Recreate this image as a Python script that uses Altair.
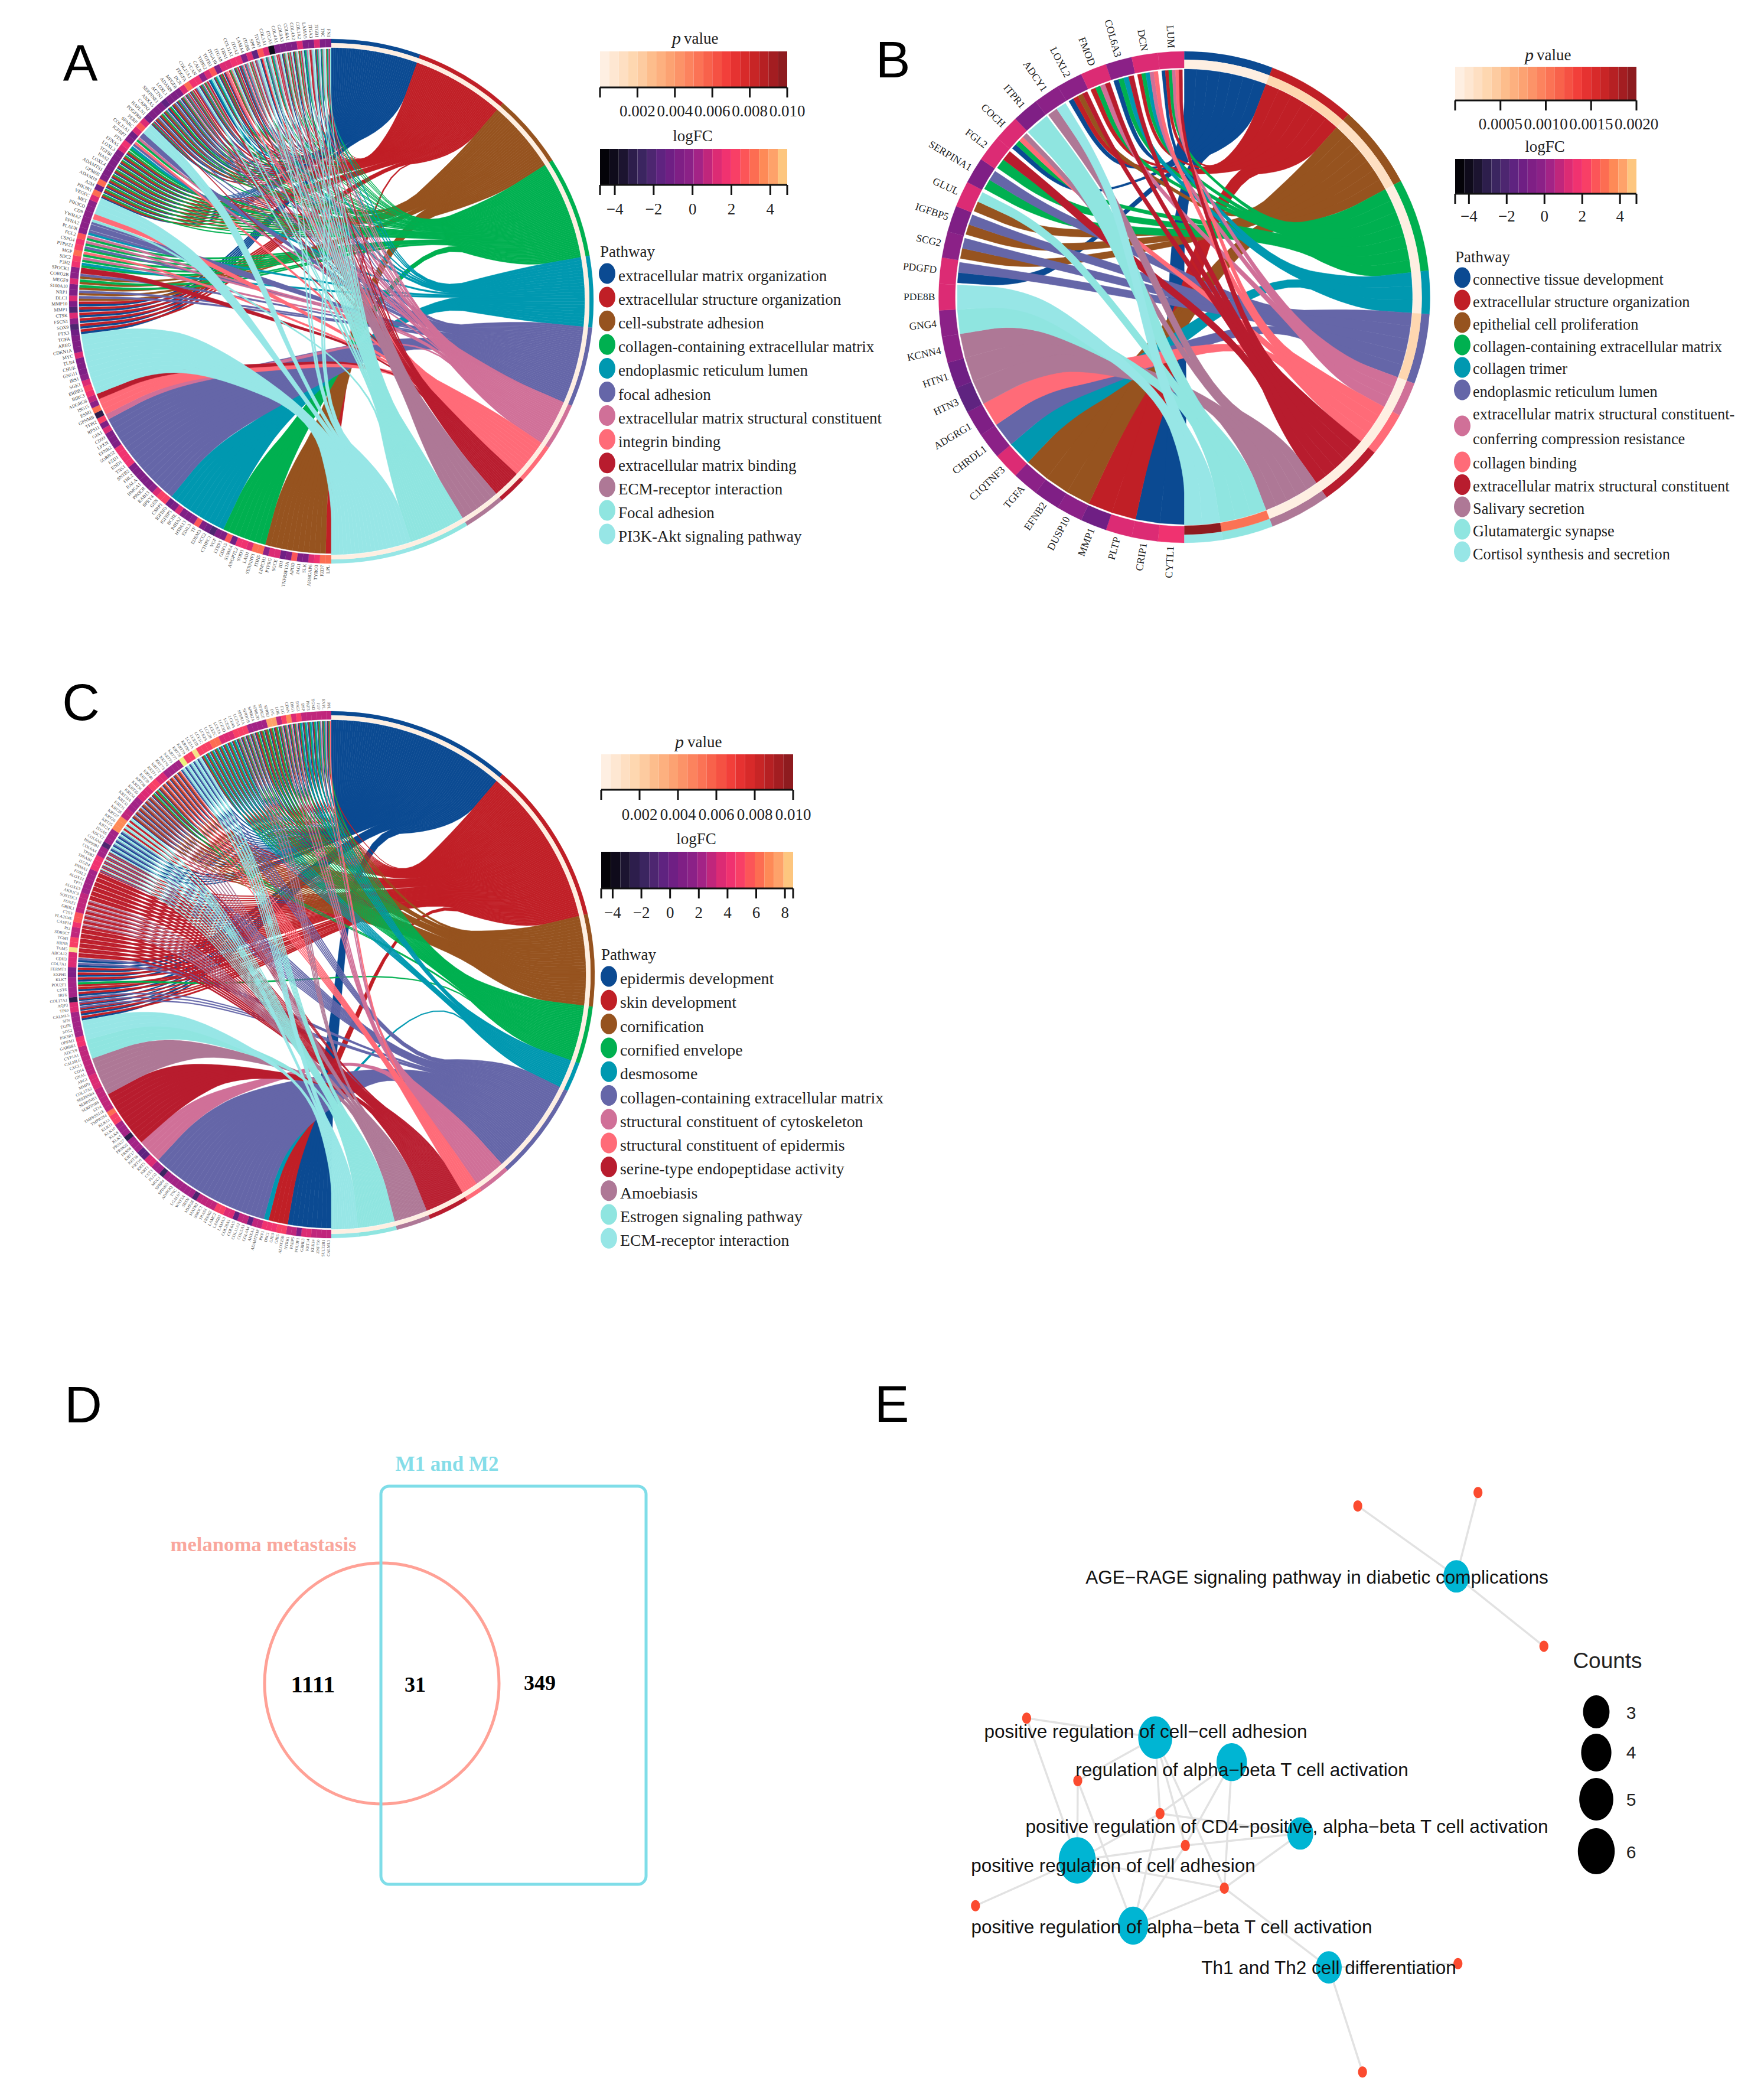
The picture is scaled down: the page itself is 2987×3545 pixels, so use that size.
import math
import altair as alt
import pandas as pd

alt.data_transformers.disable_max_rows()

SERIF = "Liberation Serif"
SANS = "Liberation Sans"
W, H = 2971, 3529
XS = alt.Scale(domain=[8, 8 + W], nice=False, zero=False)
YS = alt.Scale(domain=[8 + H, 8], nice=False, zero=False)

TERM_COL = dict(zip("abcdefghijkl", ["#0B4A92", "#C01F26", "#96531F", "#00B050", "#0098B0", "#6566A8",
                                     "#D07098", "#FF6B78", "#B81C2E", "#AE7896", "#8FE5E0", "#97E6E6"]))
P_COL = ["#FEEFE2", "#FEE7D2", "#FEDFC2", "#FED7B0", "#FDCBA0", "#FDBD8C", "#FDB07F", "#FCA272", "#FC9368", "#FC835E",
         "#FB7355", "#F8624B", "#F55143", "#F23F3A", "#E63231", "#D82A2A", "#C82526", "#B62023", "#A31D21", "#8E1B1F"]
FC_COL = ["#040308", "#0F0B1B", "#1C1430", "#2D1E4C", "#3B2560", "#4D2670", "#5F2380", "#6F1F84", "#7F1F85", "#8B2187",
          "#A32386", "#C0267C", "#DC2B74", "#F03270", "#F83F66", "#FC5558", "#FD6D52", "#FE8A57", "#FEA26A", "#FDC67F"]

# ---------- Panel A ----------
A_terms = ["extracellular matrix organization", "extracellular structure organization", "cell-substrate adhesion",
           "collagen-containing extracellular matrix", "endoplasmic reticulum lumen", "focal adhesion",
           "extracellular matrix structural constituent", "integrin binding", "extracellular matrix binding",
           "ECM-receptor interaction", "Focal adhesion", "PI3K-Akt signaling pathway"]
A_bounds = [0, 19.8, 40.9, 57.5, 80, 95.8, 113.5, 124, 133, 139.4, 148.8, 161.7, 180]
A_p = [0.0002] * 12
A_genes = ["LPL", "FZD7", "TYRO3", "ARHGAP6", "SLK", "JAG1", "APOD", "TNFRSF12A", "ID1", "SGCE", "PTPRG", "LIMCH1",
           "ITIH5", "SERPINF1", "LAD1", "SOD3", "ANGPTL2", "S100A4", "GDF15", "LTBP3", "VGF", "CTHRC1", "SCG2", "EDEM3",
           "TF", "EDIL3", "HSPA13", "P4HA2", "BCHE", "IGFBP5", "IGFBP3", "CSRP1", "GSN", "SPRY4", "RAB13", "PROCR",
           "HMGA1", "RALA", "FHL2", "SNTB2", "TNS1", "RND1", "FZD1", "SORBS2", "EFNB2", "LPXN", "CD99", "GJA1", "RPS11",
           "TFPI2", "GPNMB", "ESM1", "ISG15", "ADGRG6", "BIRC3", "ERBB3", "SGK1", "IRS1", "GNG11", "CHUK", "TLR4", "MYC",
           "CDKN1A", "AREG", "TGFA", "PTX3", "SOX9", "FSCN1", "CTSK", "MMP1", "MMP10", "DLC1", "NRP1", "S100A10", "MEGF9",
           "CORO2B", "SPOCK1", "P3H2", "SDC2", "MGP", "PTPRZ1", "CSPG4", "FGL2", "PLAUR", "EPHA2", "YWHAZ", "CD9",
           "PIK3CD", "MET", "VEGFC", "PIK3R1", "A2M", "ADAM19", "GPM6B", "ADAMTS1", "LOXL4", "HAS2", "TGFBI", "LOXL3",
           "EFNA5", "PTN", "IGFBP7", "COL21A1", "SPARC", "PERP", "PDGFRB", "HAPLN1", "CAPN2", "ANXA5", "SERPINE1", "ACTN1",
           "LOXL1", "ADAM9", "MFGE8", "DCN", "PDGFA", "COL15A1", "VCAN", "CALR", "THBS2", "TGFB1", "ITGA10", "ITGA8",
           "FBN1", "COL11A1", "ITGA2", "LAMA4", "ITGB8", "SPP1", "ITGB5", "COL5A1", "ITGA5", "COL4A1", "COL9A3", "COL6A1",
           "COL4A2", "COL1A2", "LAMA5", "ITGA3", "ITGB1", "TNC", "FN1"]
A_links = (["b"] + ["c"] * 11 + ["d"] * 8 + ["e"] * 11 + ["f"] * 18 + ["g"] + ["h"] * 3 + ["i"] + ["l"] * 11 +
           ["ab"] * 6 + ["cf", "cf", "cd", "cd", "cf", "i", "de", "dg", "dh", "df", "dg", "dg", "ef", "f", "fk", "h", "l", "l", "l"] +
           ["abcd"] * 10 + ["de", "fh", "dg", "f", "l", "l"] +
           ["abdfi", "abcf", "abcd", "abcdf", "abd", "abcf", "abdf", "abdg", "abdfgi", "abdgi", "bfk", "abdf", "bdgi", "aek",
            "abdek", "abdi", "abgh", "bdhk", "abdgi", "abeg", "befhjk", "bdgijk", "bfjkl", "abhk", "adfjkl", "bdegk", "bgijk",
            "abdgk", "bdgik", "abdjk", "bdgik", "adegk", "bijkl", "abdegk", "adgkl", "bdegik", "degjkl", "aegjk"])
A_fc = [3, 3, 1.5, 1.4, -.6, -.6, 2.6, -.9, -1.5, 1.2, 1.3, -.5, 3, 3, 1.2, 1.5, 1.5, -1.2, 2.5, -.9, -1, -2.2, -1.2, -.8,
        2.5, -.5, -.6, -.6, 1.2, -.8, -1.2, 2, 2.4, 1.3, -.5, -.7, -.9, -1, -.8, -.8, 1.7, 1.7, 1.6, 1.5, -.6, -.6, -.6, 1,
        -.6, 2, -3.5, 3, -.5, .9, 1.5, 2.4, 1.2, -.5, -.6, -.6, -.6, 1.4, -.6, -1, -1, -1.2, -2.5, -.4, 1.3, -2.2, -.6, 1.4,
        -.6, -.6, 1.4, -.5, -.5, 1.5, 2.4, 3.3, 2.4, 1.5, 2.5, -.5, -.5, -.4, -.4, -.5, -.5, 1.4, 3.3, -1.5, 3, -.6, -.6,
        -.7, -.8, -.8, -.7, 1.4, 1.5, -.9, -1.1, 1.4, 2.6, 1.4, -1.2, -.6, -.6, -.7, -1.6, -.7, -.7, -.6, 1.4, 3.2, 1.6, 1.5,
        -.5, 1.4, 2.5, -.6, 1.3, 1.4, 1.5, 1.5, -.7, 1.3, -1.6, 2.8, 1.3, -4.4, -.8, -.7, -.8, -.8, 1.4, -.7, -.6, 1.4, -.6, -.6]

# ---------- Panel B ----------
B_terms = ["connective tissue development", "extracellular structure organization", "epithelial cell proliferation",
           "collagen-containing extracellular matrix", "collagen trimer", "endoplasmic reticulum lumen",
           "extracellular matrix structural constituent-|conferring compression resistance", "collagen binding",
           "extracellular matrix structural constituent", "Salivary secretion", "Glutamatergic synapse",
           "Cortisol synthesis and secretion"]
B_bounds = [0, 21, 41.9, 61.8, 83.8, 94, 110.6, 118.8, 129.3, 144.6, 159, 171, 180]
B_p = [0.00005, 0.0003, 0.00025, 0.00005, 0.00005, 0.0003, 0.00005, 0.00005, 0.00005, 0.00005, 0.00105, 0.00198]
B_genes = ["CYTL1", "CRIP1", "PLTP", "MMP1", "DUSP10", "EFNB2", "TGFA", "C1QTNF3", "CHRDL1", "ADGRG1", "HTN3", "HTN1",
           "KCNN4", "GNG4", "PDE8B", "PDGFD", "SCG2", "IGFBP5", "GLUL", "SERPINA1", "FGL2", "COCH", "ITPR1", "ADCY1",
           "LOXL2", "FMOD", "COL6A3", "DCN", "LUM"]
B_links = ["a", "a", "b", "b", "c", "c", "c", "e", "f", "h", "j", "j", "j", "k", "l", "af", "cf", "cf", "ck", "df", "di",
           "adhj", "k", "jl", "abci", "bdgi", "adei", "bdegh", "abdghi"]
B_fc = [1.5, 1.0, 1.1, -1.3, -.3, -.6, -.4, 1.4, -.4, -.8, -2, -1.3, -.5, -.3, 1.3, 1.3, -.2, -.6, 1.2, -.6, 1.4, 1.4, -.7,
        -.3, -.3, 1.3, -.3, 1.2, 1.2]

# ---------- Panel C ----------
C_terms = ["epidermis development", "skin development", "cornification", "cornified envelope", "desmosome",
           "collagen-containing extracellular matrix", "structural constituent of cytoskeleton",
           "structural constituent of epidermis", "serine-type endopeptidase activity", "Amoebiasis",
           "Estrogen signaling pathway", "ECM-receptor interaction"]
C_bounds = [0, 40.5, 76.7, 97, 109.7, 116.2, 138, 145.2, 149, 158, 165.6, 174, 180]
C_p = [0.0002] * 12
C_genes = ["CALML3", "SULT2B1", "ZNF750", "KLK14", "KRT14", "GRHL3", "POU3F1", "FABP5", "NTRK1", "ALOX15B", "GJB5", "GJB3",
           "DSC1", "PKP1", "ADAMTS18", "ANXA1", "COL4A4", "COL5A3", "COL11A2", "COL6A5", "COL28A1", "LAMA3", "LAMB3", "LAMC2",
           "FREM2", "FRAS1", "SMOC1", "MATN2", "MMP28", "SBSN", "WNT5A", "LGALS7", "TNC", "ADIPOQ", "SPINK5", "SPRR4",
           "MUC1", "FLG2", "CST3", "KRT1", "KRT5", "KRT10", "KRT16", "KRT17", "PRSS8", "PRSS22", "PRSS27", "KLK5", "KLK8",
           "KLK10", "KLK11", "KLK13", "TMPRSS4", "TMPRSS11E", "ST14", "SERPINB5", "SERPINB3", "SERPINB4", "COL17A2", "MMP9",
           "ARG1", "GNAL", "CD14", "CXCL1", "CALML6", "CYP1A1", "ADCY9", "GABBR1", "OPRM1", "PIK3R3", "SOS2", "EGFR",
           "SFN", "CALML5", "TP63", "AQP3", "COL17A1", "IRF6", "CST6", "POU2F1", "KLK7", "EXPH5", "FERMT1", "COL7A1", "CDH3",
           "ABCA12", "TGM5", "HRNR", "TGM1", "SDR9C7", "PI3", "CASP14", "PLA2G4E", "CTSV", "GRHL1", "FOXE1", "SOSTDC1",
           "AKR1C3", "ALOXE3", "TP73", "ALOX12", "FOSL2", "PNMA1", "ITGB4", "TPSAB1", "TPSB2", "COL6A4", "HSP90B1", "COL6A6",
           "ADCY2", "ITGA6", "KRT24", "KRT25", "KRT26", "KRT27", "KRT28", "KRT31", "KRT32", "KRT33A", "KRT34", "KRT35",
           "KRT36", "KRT38", "KRT39", "KRT40", "KRT71", "KRT72", "KRT73", "KRT74", "KRT75", "KRT77", "KRT78", "KRT79",
           "KRT80", "LCE1A", "LCE1B", "LCE1C", "LCE2A", "LCE2B", "LCE2C", "LCE3A", "LCE3D", "LCE3E", "LCE4A", "LCE5A",
           "SPRR1A", "SPRR1B", "SPRR2A", "SPRR2D", "SPRR2E", "SPRR3", "IVL", "LOR", "FLG", "CDSN", "DSG1", "DSG3", "DSP",
           "PKP3", "TGM3", "JUP", "EVPL", "PPL"]
C_links = (["a"] * 9 + ["b"] * 4 + ["e"] + ["f"] * 25 + ["g"] * 5 + ["i"] * 12 + ["j"] * 8 + ["k", "k", "k", "k", "l", "l", "l", "l"] +
           ["ab"] * 2 + ["abf"] * 3 + ["ab"] * 2 + ["bd"] + ["ab"] * 3 + ["af"] * 2 +
           ["bi"] * 6 + ["bij"] * 6 + ["bi"] * 6 + ["bfik"] * 5 + ["afk"] * 5 + ["bikl"] * 3 +
           ["abcj"] * 6 + ["abcd"] * 2 + ["abch"] * 6 + ["afkl"] * 5 + ["abcde"] * 8 + ["abdj"] * 4 + ["abcd"] * 5 +
           ["abdg"] * 4 + ["abde"] * 4 + ["acdeg"] * 2 + ["abdh"] * 2)
C_fc_runs = [(3, 2), (2.5, 2), (3.6, 2), (1, 1), (3, 2), (4.6, 2), (4, 3), (2.6, 2), (-.5, 1), (2.8, 2), (-.9, 1), (3.4, 2),
             (5, 2), (2.8, 4), (-1, 1), (2.4, 4), (2, 3), (-1.8, 1), (2, 2), (3.6, 2), (-.9, 2), (1.9, 3), (-2.4, 1), (2.2, 3),
             (5, 2), (6, 1), (2.8, 5), (3.6, 3), (2.5, 6), (4, 2), (2.4, 5), (3.8, 2), (-2.6, 1), (2, 4), (1, 2), (3.2, 3),
             (8.9, 1), (5, 2), (2.6, 2), (4, 1), (5.5, 2), (3, 4), (2.4, 5), (4, 3), (2.3, 2), (-1.6, 1), (2.4, 3), (6.8, 3),
             (3, 2), (2, 3), (3.8, 3), (5, 2), (3.6, 2), (2.4, 4), (9.6, 1), (4.7, 2), (8.9, 1), (4.7, 3), (6.5, 2), (3.6, 3),
             (5, 3), (2.2, 4), (7.3, 2), (3, 1), (5, 1), (7, 1), (3.4, 1), (4.8, 1), (2.5, 1)]
C_fc = [v for v, k in C_fc_runs for _ in range(k)]


def ang_xy(cx, cy, r, deg):
    t = math.radians(deg)
    return cx + r * math.sin(t), cy - r * math.cos(t)


def unit(deg):
    t = math.radians(deg)
    return math.sin(t), -math.cos(t)


def tangent(deg):
    t = math.radians(deg)
    return math.cos(t), math.sin(t)


def chaikin(points, iterations=3):
    pts = points
    for _ in range(iterations):
        out = [pts[0]]
        for p, q in zip(pts[:-1], pts[1:]):
            out.append((.75 * p[0] + .25 * q[0], .75 * p[1] + .25 * q[1]))
            out.append((.25 * p[0] + .75 * q[0], .25 * p[1] + .75 * q[1]))
        out.append(pts[-1])
        pts = out
    return pts


def fc_color(v, lo, hi):
    if v > 9.3:
        return "#EDF27E"
    if v > 8.7:
        return "#F6E38A"
    i = int((v - lo) / (hi - lo) * 20)
    return FC_COL[max(0, min(19, i))]


def p_color(v, hi):
    i = int(v / hi * 20)
    return P_COL[max(0, min(19, i))]


GROUP_W = {"k": .6, "l": .6, "f": .5}


def ribbon_rows(spec):
    cx, cy, genes, links, bounds, rt, rg, R = (spec["cx"], spec["cy"], spec["genes"], spec["links"], spec["bounds"],
                                               spec["rt"], spec["rg"], spec["R"])
    n = len(genes)
    links = (links + [links[-1]] * n)[:n]
    w = 180.0 / n
    # contiguous runs of single-pathway genes form a block; the other genes are binned by position
    group_of = []
    run = 0
    for i, s in enumerate(links):
        if len(s) == 1:
            if i > 0 and links[i - 1] != s:
                run += 1
            group_of.append(("run", run))
        else:
            run += 1
            group_of.append(("zone", int((i * w) // 30)))
    members = {}
    for i, g in enumerate(group_of):
        members.setdefault(g, []).append(180 + (i + .5) * w)
    group_mid = {g: sum(v) / len(v) for g, v in members.items()}
    per_term = {k: [] for k in "abcdefghijkl"}
    for i, s in enumerate(links):
        g0 = 180 + i * w
        pad = w * 0.08 if len(s) > 1 else 0
        sub = (w - 2 * pad) / len(s)
        for j, k in enumerate(s):
            per_term[k].append((g0 + pad + j * sub, g0 + pad + (j + 1) * sub, group_of[i]))
    rows = []
    rid = 0
    for ti, k in enumerate("abcdefghijkl"):
        items = sorted(per_term[k], key=lambda q: -q[0])
        if not items:
            continue
        t0, t1 = bounds[ti], bounds[ti + 1]
        tm = (t0 + t1) / 2
        dt = (t1 - t0) / len(items)
        tu = unit(tm)
        sx = sum(unit((q[0] + q[1]) / 2)[0] for q in items)
        sy = sum(unit((q[0] + q[1]) / 2)[1] for q in items)
        nrm = math.hypot(sx, sy) or 1
        gu = (sx / nrm, sy / nrm)
        qt = ((.47 * tu[0] + .14 * gu[0]) * R, (.47 * tu[1] + .14 * gu[1]) * R)
        tt = tangent(tm)

        def edge(a, amid, g, gmid, group):
            ua = unit(a)
            ug = unit(g)
            gm = group_mid[group]
            gmu = unit(gm)
            gt = tangent(gm)
            qg0 = ((.49 * gmu[0] + .09 * tu[0]) * R, (.49 * gmu[1] + .09 * tu[1]) * R)
            wg = GROUP_W.get(k, .18) if group[0] == "run" else .5
            wd = (wg * math.radians(gmid - gm) + .7 * math.radians(g - gmid)) * R
            qg = (qg0[0] + wd * gt[0], qg0[1] + wd * gt[1])
            wa = (.1 * math.radians(amid - tm) + .45 * math.radians(a - amid)) * R
            q1 = (qt[0] + wa * tt[0], qt[1] + wa * tt[1])
            ctrl = [(ua[0] * rt, ua[1] * rt), (ua[0] * .75 * rt, ua[1] * .75 * rt), q1, qg,
                    (ug[0] * .75 * rg, ug[1] * .75 * rg), (ug[0] * rg, ug[1] * rg)]
            return chaikin(ctrl)

        for q, (g1, g2, group) in enumerate(items):
            a1, a2 = t0 + q * dt, t0 + (q + 1) * dt
            am, gmid = (a1 + a2) / 2, (g1 + g2) / 2
            pts = []
            for u in range(3):
                pts.append(ang_xy(0, 0, rt, a1 + (a2 - a1) * u / 3))
            pts += edge(a2, am, g1, gmid, group)
            pts += edge(a1, am, g2, gmid, group)[::-1]
            for o, (x, y) in enumerate(pts):
                rows.append({"x": round(cx + x, 1), "y": round(cy + y, 1), "id": rid, "o": o, "c": TERM_COL[k]})
            rid += 1
    return rows


def ring_rows(spec):
    cx, cy, R = spec["cx"], spec["cy"], spec["R"]
    rows = []
    n = len(spec["genes"])
    fc = (spec["fc"] + [spec["fc"][-1]] * n)[:n]
    w = 180.0 / n
    for i in range(n):
        rows.append({"cx": cx, "cy": cy, "t1": math.radians(180 + i * w), "t2": math.radians(180 + (i + 1) * w),
                     "r1": spec["cell_in"], "r2": R, "c": fc_color(fc[i], *spec["fc_dom"])})
    for ti, k in enumerate("abcdefghijkl"):
        t1, t2 = math.radians(spec["bounds"][ti]), math.radians(spec["bounds"][ti + 1])
        rows.append({"cx": cx, "cy": cy, "t1": t1, "t2": t2, "r1": spec["term_in"], "r2": R, "c": TERM_COL[k]})
        rows.append({"cx": cx, "cy": cy, "t1": t1, "t2": t2, "r1": spec["p_in"], "r2": spec["term_in"],
                     "c": p_color(spec["p"][ti], spec["p_hi"])})
    return rows


def label_rows(spec):
    n = len(spec["genes"])
    w = 180.0 / n
    rows = []
    for i, g in enumerate(spec["genes"]):
        th = 180 + (i + .5) * w
        x, y = ang_xy(spec["cx"], spec["cy"], spec["R"] + spec["lab_gap"], th)
        rows.append({"x": round(x, 1), "y": round(y, 1), "t": g, "a": (th - 270) % 360})
    return rows


SPECS = [
    dict(cx=561, cy=510, R=444, term_in=437, p_in=430, cell_in=430, rt=429, rg=427, genes=A_genes, links=A_links, fc=A_fc,
         bounds=A_bounds, p=A_p, p_hi=0.01, fc_dom=(-5, 5), lab_gap=3, lab_size=8, lab_col="#484848"),
    dict(cx=2005.5, cy=503, R=416, term_in=402, p_in=387, cell_in=388, rt=386, rg=385, genes=B_genes, links=B_links, fc=B_fc,
         bounds=B_bounds, p=B_p, p_hi=0.002, fc_dom=(-5, 5), lab_gap=6, lab_size=17.5, lab_col="#222222"),
    dict(cx=561, cy=1650, R=446, term_in=439, p_in=432, cell_in=432, rt=431, rg=429, genes=C_genes, links=C_links, fc=C_fc,
         bounds=C_bounds, p=C_p, p_hi=0.01, fc_dom=(-5, 8.6), lab_gap=3, lab_size=7, lab_col="#555555"),
]

layers = []


def X(f="x"):
    return alt.X(f + ":Q", scale=XS, axis=None)


def Y(f="y"):
    return alt.Y(f + ":Q", scale=YS, axis=None)


for sp in SPECS:
    rib = pd.DataFrame(ribbon_rows(sp))
    layers.append(alt.Chart(rib).mark_line(filled=True, strokeWidth=0.5).encode(
        x=X(), y=Y(), color=alt.Color("c:N", scale=None), stroke=alt.Stroke("c:N", scale=None),
        detail="id:N", order="o:Q"))
    ring = pd.DataFrame(ring_rows(sp))
    layers.append(alt.Chart(ring).mark_arc().encode(
        x=X("cx"), y=Y("cy"), theta=alt.Theta("t1:Q", scale=None), theta2=alt.Theta2("t2:Q"),
        radius=alt.Radius("r1:Q", scale=None), radius2=alt.Radius2("r2:Q"), color=alt.Color("c:N", scale=None),
        stroke=alt.Stroke("c:N", scale=None), strokeWidth=alt.value(0.3)))
    lab = pd.DataFrame(label_rows(sp))
    layers.append(alt.Chart(lab).mark_text(align="right", baseline="middle", font=SERIF, fontSize=sp["lab_size"],
                                           color=sp["lab_col"]).encode(
        x=X(), y=Y(), text="t:N", angle=alt.Angle("a:Q", scale=None)))


def text_layer(rows, font=SERIF, size=27, color="#222222", align="left", **kw):
    df = pd.DataFrame(rows, columns=["x", "y", "t"])
    return alt.Chart(df).mark_text(align=align, baseline="middle", font=font, fontSize=size, color=color, **kw).encode(
        x=X(), y=Y(), text="t:N")


ELL = "M-0.8,0A0.8,1,0,1,1,0.8,0A0.8,1,0,1,1,-0.8,0Z"
CIRC = "M-0.973,0A0.973,1,0,1,1,0.973,0A0.973,1,0,1,1,-0.973,0Z"


def color_legend(x0, x1, p_hi, p_ticks, p_fmt, pb0, pb1, p_label_y, pt_y, p_x, v_x,
                 fc_lo, fc_hi, fc_ticks, fb0, fb1, f_label_y, lf_x, lf_y,
                 path_x, path_y, dot_x, dot_ys, text_x, text_ys, terms, term_size):
    blocks = []
    w = (x1 - x0) / 20
    for i in range(20):
        blocks.append({"x": x0 + i * w, "x2": x0 + (i + 1) * w, "y": pb0, "y2": pb1, "c": P_COL[i]})
        blocks.append({"x": x0 + i * w, "x2": x0 + (i + 1) * w, "y": fb0, "y2": fb1, "c": FC_COL[i]})
    layers.append(alt.Chart(pd.DataFrame(blocks)).mark_rect().encode(
        x=X(), x2=alt.X2("x2:Q"), y=Y(), y2=alt.Y2("y2:Q"), color=alt.Color("c:N", scale=None)))
    rules = []
    labs = []
    px = [x0] + [x0 + v / p_hi * (x1 - x0) for v in p_ticks]
    for x in px:
        rules.append({"x": x, "x2": x, "y": pb1, "y2": pb1 + 17})
    rules.append({"x": x0, "x2": x1, "y": pb1, "y2": pb1})
    for v, x in zip(p_ticks, px[1:]):
        labs.append((x, p_label_y, p_fmt % v))
    fx = [x0, x1] + [x0 + (v - fc_lo) / (fc_hi - fc_lo) * (x1 - x0) for v in fc_ticks]
    for x in fx:
        rules.append({"x": x, "x2": x, "y": fb1, "y2": fb1 + 17})
    rules.append({"x": x0, "x2": x1, "y": fb1, "y2": fb1})
    for v, x in zip(fc_ticks, fx[2:]):
        labs.append((x, f_label_y, ("\u2212%d" % -v) if v < 0 else "%d" % v))
    layers.append(alt.Chart(pd.DataFrame(rules)).mark_rule(color="#111111", strokeWidth=3).encode(
        x=X(), x2=alt.X2("x2:Q"), y=Y(), y2=alt.Y2("y2:Q")))
    labs.append((lf_x, lf_y, "logFC"))
    layers.append(text_layer(labs, align="center"))
    layers.append(alt.Chart(pd.DataFrame([(p_x, pt_y, "p")], columns=["x", "y", "t"])).mark_text(
        align="left", baseline="middle", font=SERIF, fontSize=30, fontStyle="italic", color="#222222").encode(
        x=X(), y=Y(), text="t:N"))
    layers.append(text_layer([(v_x, pt_y, "value"), (path_x, path_y, "Pathway")]))
    rows = []
    k = 0
    for term in terms:
        for part in term.split("|"):
            rows.append((text_x, text_ys[k], part))
            k += 1
    layers.append(text_layer(rows, size=term_size))
    dots = pd.DataFrame({"x": [dot_x] * 12, "y": dot_ys, "c": [TERM_COL[k] for k in "abcdefghijkl"]})
    layers.append(alt.Chart(dots).mark_point(shape=ELL, filled=True, opacity=1, size=1225).encode(
        x=X(), y=Y(), color=alt.Color("c:N", scale=None)))


color_legend(1016, 1333, 0.01, [0.002, 0.004, 0.006, 0.008, 0.01], "%.3f", 87, 148, 189, 66, 1138, 1158,
             -4.76, 4.87, [-4, -2, 0, 2, 4], 252, 313, 355, 1173, 231,
             1016, 427, 1028, [463 + 40.1 * i for i in range(12)], 1047, [468 + 40.1 * i for i in range(12)], A_terms, 27)
color_legend(2464, 2771, 0.002, [0.0005, 0.001, 0.0015, 0.002], "%.4f", 113, 170, 211, 94, 2582, 2602,
             -4.73, 4.87, [-4, -2, 0, 2, 4], 269, 328, 367, 2616, 249,
             2464, 436, 2476, [470, 508, 546, 584, 622, 660, 721, 782, 820.5, 858, 896, 934], 2494,
             [474, 512, 550, 588, 625, 664, 702, 744, 785, 824, 862, 900, 939], B_terms, 26.3)
color_legend(1018, 1343, 0.01, [0.002, 0.004, 0.006, 0.008, 0.01], "%.3f", 1277, 1337, 1380, 1257, 1143, 1164,
             -4.8, 8.57, [-4, -2, 0, 2, 4, 6, 8], 1442, 1504, 1546, 1179, 1421,
             1018, 1617, 1031, [1653 + 40.3 * i for i in range(12)], 1050, [1658 + 40.3 * i for i in range(12)], C_terms, 27.8)

# ---------- panel letters ----------
layers.append(text_layer([(136, 111, "A"), (1512, 105, "B"), (137, 1193, "C"), (141, 2382, "D"), (1510, 2381, "E")],
                         font=SANS, size=88, color="#000000", align="center"))

# ---------- Panel D ----------
D_circle = pd.DataFrame({"x": [646.5], "y": [2850]})
layers.append(alt.Chart(D_circle).mark_point(shape=CIRC, filled=False, size=408 ** 2, stroke="#FFA196", strokeWidth=5, opacity=1).encode(
    x=X(), y=Y()))
D_box = pd.DataFrame({"x": [645], "x2": [1094], "y": [2516], "y2": [3190]})
layers.append(alt.Chart(D_box).mark_rect(fill="white", fillOpacity=0, stroke="#7FDDE8", strokeWidth=5, cornerRadius=14).encode(
    x=X(), x2=alt.X2("x2:Q"), y=Y(), y2=alt.Y2("y2:Q")))
layers.append(text_layer([(757, 2479, "M1 and M2")], size=35, color="#85DDE8", align="center", fontWeight="bold"))
layers.append(text_layer([(446, 2616, "melanoma metastasis")], size=34.7, color="#F9A79D", align="center", fontWeight="bold"))
layers.append(text_layer([(530, 2853, "1111")], size=41, color="#000000", align="center", fontWeight="bold"))
layers.append(text_layer([(703, 2853, "31"), (914, 2850, "349")], size=36, color="#000000", align="center", fontWeight="bold"))

# ---------- Panel E ----------
E_hubs = {"age": (1138, 470, 35), "cc": (567, 818, 46), "rab": (712, 871, 41), "cd4": (842, 1025, 35),
          "ca": (419, 1083, 50), "pab": (525, 1224, 41), "th": (896, 1314, 35)}
E_genes = {"g1": (951, 318), "g2": (1179, 289), "g3": (1304, 621), "g4": (323, 776), "g5": (420, 911), "g6": (576, 982),
           "g7": (624, 1051), "g8": (698, 1143), "g9": (226, 1181), "g10": (1141, 1306), "g11": (960, 1540)}
E_edges = [("age", "g1"), ("age", "g2"), ("age", "g3"), ("cc", "g4"), ("ca", "g4"), ("cc", "g5"), ("ca", "g5"), ("pab", "g5"),
           ("cc", "g6"), ("rab", "g6"), ("cd4", "g6"), ("ca", "g6"), ("pab", "g6"), ("ca", "g7"), ("cd4", "g7"), ("rab", "g7"),
           ("pab", "g7"), ("cc", "g7"), ("ca", "g8"), ("pab", "g8"), ("cd4", "g8"), ("rab", "g8"), ("cc", "g8"), ("th", "g8"),
           ("ca", "g9"), ("th", "g10"), ("th", "g11")]


def ex(v):
    return 1450 + v / 1.12


def ey(v):
    return 2300 + v / 1.275


pos = {k: (v[0], v[1]) for k, v in E_hubs.items()}
pos.update(E_genes)
edge_df = pd.DataFrame([{"x": ex(pos[a][0]), "y": ey(pos[a][1]), "x2": ex(pos[b][0]), "y2": ey(pos[b][1])} for a, b in E_edges])
layers.append(alt.Chart(edge_df).mark_rule(color="#E2E2E2", strokeWidth=3.5).encode(
    x=X(), x2=alt.X2("x2:Q"), y=Y(), y2=alt.Y2("y2:Q")))
hub_df = pd.DataFrame([{"x": ex(v[0]), "y": ey(v[1]), "s": (2 * v[2] / 1.275) ** 2} for v in E_hubs.values()])
layers.append(alt.Chart(hub_df).mark_point(shape=ELL, filled=True, opacity=1, color="#00B5D3").encode(
    x=X(), y=Y(), size=alt.Size("s:Q", scale=None)))
gene_df = pd.DataFrame([{"x": ex(v[0]), "y": ey(v[1])} for v in E_genes.values()])
layers.append(alt.Chart(gene_df).mark_point(shape=ELL, filled=True, opacity=1, color="#FB4B2F", size=19 ** 2).encode(x=X(), y=Y()))
layers.append(text_layer([
    (2230, 2672, "AGE\u2212RAGE signaling pathway in diabetic complications"),
    (1940, 2933, "positive regulation of cell\u2212cell adhesion"),
    (2103, 2998, "regulation of alpha\u2212beta T cell activation"),
    (2179, 3094, "positive regulation of CD4\u2212positive, alpha\u2212beta T cell activation"),
    (1885, 3160, "positive regulation of cell adhesion"),
    (1984, 3264, "positive regulation of alpha\u2212beta T cell activation"),
    (2250, 3333, "Th1 and Th2 cell differentiation")], font=SANS, size=31.5, color="#111111", align="center"))
E_counts = [3, 4, 5, 6]
count_df = pd.DataFrame({"x": [2703] * 4, "y": [2898, 2967, 3046, 3134], "s": [56 ** 2, 64 ** 2, 72 ** 2, 78 ** 2]})
layers.append(alt.Chart(count_df).mark_point(shape=ELL, filled=True, opacity=1, color="#000000").encode(
    x=X(), y=Y(), size=alt.Size("s:Q", scale=None)))
layers.append(text_layer([(2762, y, str(c)) for c, y in zip(E_counts, [2901, 2968, 3048, 3137])], font=SANS, size=30, align="center"))
layers.append(text_layer([(2722, 2813, "Counts")], font=SANS, size=37, align="center"))

chart = alt.layer(*layers).properties(
    width=W, height=H, padding=0, autosize=alt.AutoSizeParams(type="none"), background="white"
).configure_view(stroke=None)
chart.save("out.html", embed_options={"renderer": "svg", "actions": False})
